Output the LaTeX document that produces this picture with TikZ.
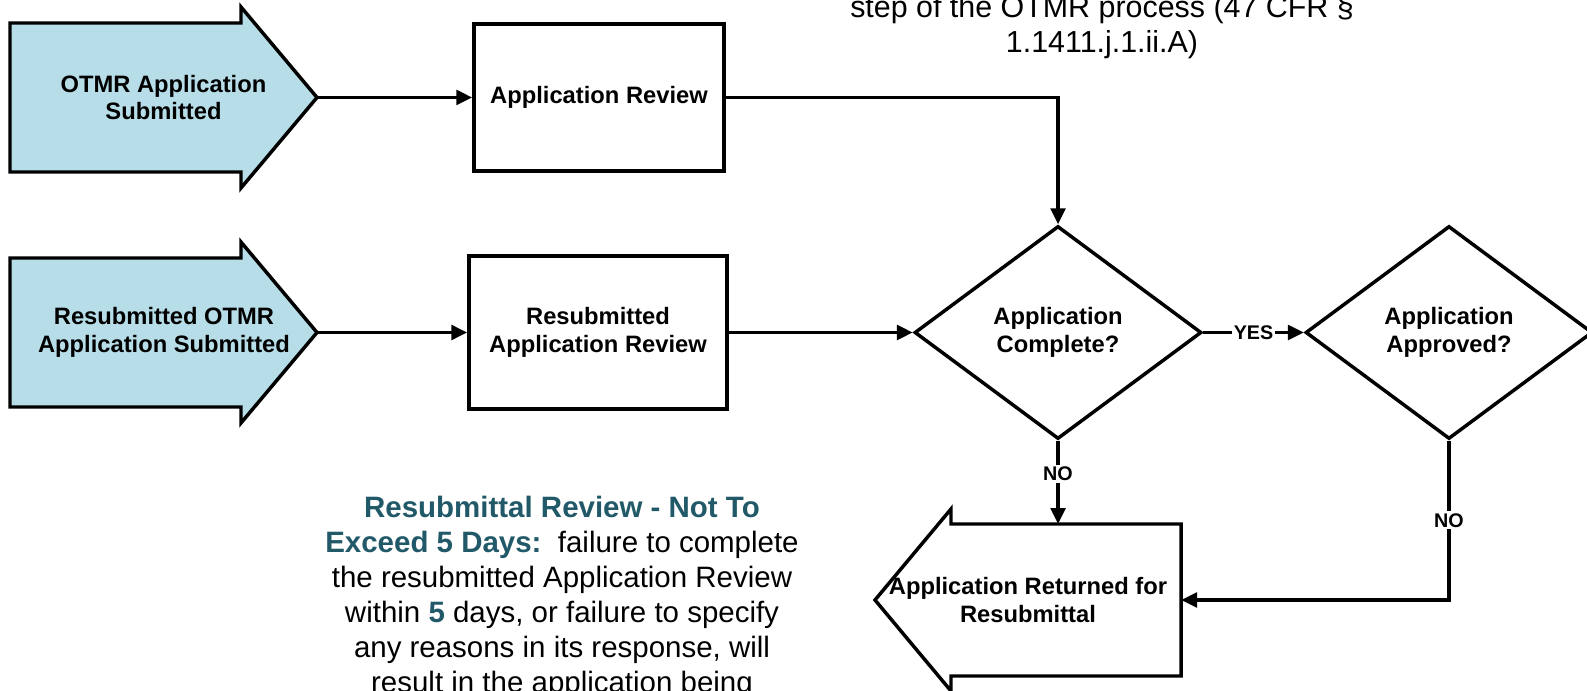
\documentclass[tikz,border=0pt]{standalone}
\usepackage{fontspec}
\setmainfont{Liberation Sans}
\usetikzlibrary{arrows.meta,shapes.geometric}
\definecolor{blockblue}{HTML}{B7DEE8}
\definecolor{noteteal}{HTML}{215968}
\newcommand\flowboxfont{\bfseries\fontsize{17.8pt}{20.5pt}\selectfont}
\newcommand\flowlblfont{\bfseries\fontsize{14.8pt}{16pt}\selectfont}
\newcommand\flownotefont{\fontsize{22.1pt}{26.25pt}\selectfont}
\newcommand\flowtopfont{\fontsize{22.8pt}{26.25pt}\selectfont}
\begin{document}
\begin{tikzpicture}[x=0.75pt,y=-0.75pt,
  outline/.style={draw=black,line width=2.6pt,line join=miter},
  blockarrow/.style={outline,fill=blockblue},
  procbox/.style={outline,rectangle,fill=white,inner sep=0pt,font=\flowboxfont,align=center},
  decision/.style={outline,diamond,fill=white,inner sep=0pt,font=\flowboxfont,align=center},
  shapetext/.style={inner sep=0pt,font=\flowboxfont,align=center},
  conn/.style={line width=2.6pt,-{Triangle[length=12pt,width=11pt]}},
  branch/.style={fill=white,inner sep=1.5pt,font=\flowlblfont},
  notetext/.style={inner sep=0pt,font=\flownotefont,align=center},
  toptext/.style={inner sep=0pt,font=\flowtopfont,align=center},
]
\useasboundingbox (0,0) rectangle (1587,691);
\clip (0,0) rectangle (1587,691);

% incoming application (block arrows pointing right)
\draw[blockarrow] (10,23) -- (241,23) -- (241,7) -- (317,97.5) -- (241,188)
  -- (241,172) -- (10,172) -- cycle;
\node[shapetext] (a1) at (163.5,97.5) {OTMR Application\\Submitted};
\coordinate (a1tip) at (317,97.5);

\draw[blockarrow] (10,258) -- (241,258) -- (241,242) -- (317,332.5) -- (241,423)
  -- (241,407) -- (10,407) -- cycle;
\node[shapetext] (a2) at (164,332.5) {Resubmitted OTMR\\Application Submitted};
\coordinate (a2tip) at (317,332.5);

% review steps
\node[procbox,minimum width=187.5pt,minimum height=110.25pt] (r1) at (599,97.5) {Application Review};
\node[procbox,minimum width=193.5pt,minimum height=114.75pt] (r2) at (598,332.5) {Resubmitted\\Application Review};

% decisions
\node[decision,minimum width=215.25pt,minimum height=159.75pt] (d1) at (1058,332.5) {Application\\Complete?};
\node[decision,minimum width=215.25pt,minimum height=159.75pt] (d2) at (1449,332.5) {Application\\Approved?};

% returned application (block arrow pointing left)
\draw[outline,fill=white] (1181,524) -- (951,524) -- (951,509) -- (875,600) -- (951,691)
  -- (951,676) -- (1181,676) -- cycle;
\node[shapetext] (a3) at (1028,600) {Application Returned for\\Resubmittal};
\coordinate (a3top) at (1058,524);
\coordinate (a3east) at (1181,600);

% connectors
\draw[conn] (a1tip) -- (r1.west);
\draw[conn] (a2tip) -- (r2.west);
\draw[conn] (r1.east) -| (d1.north);
\draw[conn] (r2.east) -- (d1.west);
\draw[conn] (d1.east) -- node[branch] {YES} (d2.west);
\draw[conn] (d1.south) -- node[branch,pos=0.4] {NO} (a3top);
\draw[conn] (d2.south) |- node[branch,pos=0.25] {NO} (a3east);

% notes
\node[toptext,anchor=north] (cfr) at (1102,-5) {step of the OTMR process (47 CFR §\\1.1411.j.1.ii.A)};
\node[notetext,anchor=north] (note) at (562,496) {%
  \textcolor{noteteal}{\bfseries Resubmittal Review - Not To}\\
  \textcolor{noteteal}{\bfseries Exceed 5 Days:}\ \ failure to complete\\
  the resubmitted Application Review\\
  within \textcolor{noteteal}{\bfseries 5} days, or failure to specify\\
  any reasons in its response, will\\
  result in the application being};
\end{tikzpicture}
\end{document}
